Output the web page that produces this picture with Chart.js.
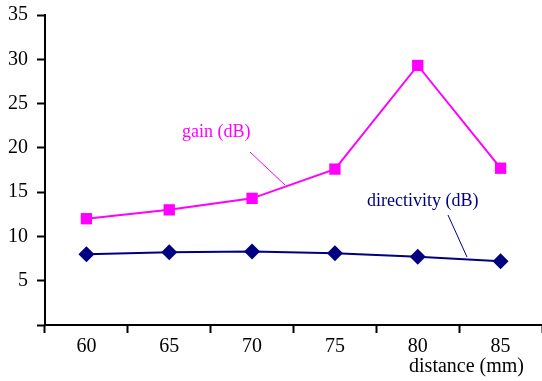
<!DOCTYPE html>
<html>
<head>
<meta charset="utf-8">
<script src="https://cdn.jsdelivr.net/npm/chart.js@4/dist/chart.umd.min.js"></script>
<style>
  html, body { margin: 0; padding: 0; background: #fff; }
  #wrap { width: 542px; height: 381px; }
</style>
</head>
<body>
<div id="wrap"><canvas id="chart" width="542" height="381"></canvas></div>
<script>
// datos
const distances = ['60', '65', '70', '75', '80', '85'];
const gainDb = [12.0, 13.0, 14.3, 17.6, 29.3, 17.7];
const directivityDb = [8.0, 8.2, 8.3, 8.1, 7.7, 7.2];
const yTicks = [0, 5, 10, 15, 20, 25, 30, 35];

const serif = "'Liberation Serif', 'Times New Roman', serif";

// etiquetas con linea guia, como en la figura original
const labelsPlugin = {
    id: 'labels',
    afterDraw(chart) {
        const ctx = chart.ctx;
        ctx.save();
        ctx.font = '18px ' + serif;
        ctx.textBaseline = 'alphabetic';
        ctx.textAlign = 'left';

        ctx.fillStyle = '#ff00ff';
        ctx.fillText('gain (dB)', 182, 137);
        ctx.strokeStyle = '#ff00ff';
        ctx.lineWidth = 1;
        ctx.beginPath();
        ctx.moveTo(250, 152);
        ctx.lineTo(285, 185);
        ctx.stroke();

        ctx.fillStyle = '#000080';
        ctx.fillText('directivity (dB)', 367, 206);
        ctx.strokeStyle = '#000080';
        ctx.beginPath();
        ctx.moveTo(448, 215);
        ctx.lineTo(467, 257);
        ctx.stroke();

        ctx.fillStyle = '#000';
        ctx.font = '20px ' + serif;
        ctx.textAlign = 'right';
        ctx.fillText('distance (mm)', 524, 372);
        ctx.restore();
    }
};

new Chart(document.getElementById('chart'), {
    type: 'line',
    data: {
        labels: distances,
        datasets: [
            {
                label: 'gain (dB)',
                data: gainDb,
                borderColor: '#ff00ff',
                backgroundColor: '#ff00ff',
                borderWidth: 2,
                pointStyle: 'rect',
                pointRadius: 8,
                pointBorderWidth: 0,
                tension: 0
            },
            {
                label: 'directivity (dB)',
                data: directivityDb,
                borderColor: '#000080',
                backgroundColor: '#000080',
                borderWidth: 2,
                pointStyle: 'rectRot',
                pointRadius: 8,
                pointBorderWidth: 0,
                tension: 0
            }
        ]
    },
    options: {
        responsive: false,
        animation: false,
        layout: {
            autoPadding: false,
            padding: { top: 15, right: 0, left: 0, bottom: 0 }
        },
        plugins: {
            legend: { display: false },
            tooltip: { enabled: false }
        },
        scales: {
            x: {
                offset: true,
                grid: {
                    offset: true,
                    drawOnChartArea: false,
                    drawTicks: true,
                    tickLength: 8,
                    tickWidth: 2,
                    tickColor: '#000'
                },
                border: { display: true, color: '#000', width: 2 },
                ticks: {
                    color: '#000',
                    font: { family: serif, size: 20 },
                    padding: 2,
                    maxRotation: 0
                },
                afterFit(scale) {
                    scale.height = 56;
                    scale.paddingLeft = 0;
                    scale.paddingRight = 0;
                }
            },
            y: {
                min: 0,
                max: 35,
                afterBuildTicks(scale) {
                    scale.ticks = yTicks.map(v => ({ value: v }));
                },
                grid: {
                    drawOnChartArea: false,
                    drawTicks: true,
                    tickLength: 8,
                    tickWidth: 2,
                    tickColor: '#000'
                },
                border: { display: true, color: '#000', width: 2 },
                ticks: {
                    color: '#000',
                    font: { family: serif, size: 20 },
                    padding: 9,
                    callback: v => (v === 0 ? '' : v)
                },
                afterFit(scale) {
                    scale.width = 45;
                    scale.paddingTop = 0;
                    scale.paddingBottom = 0;
                }
            }
        }
    },
    plugins: [labelsPlugin]
});
</script>
</body>
</html>
